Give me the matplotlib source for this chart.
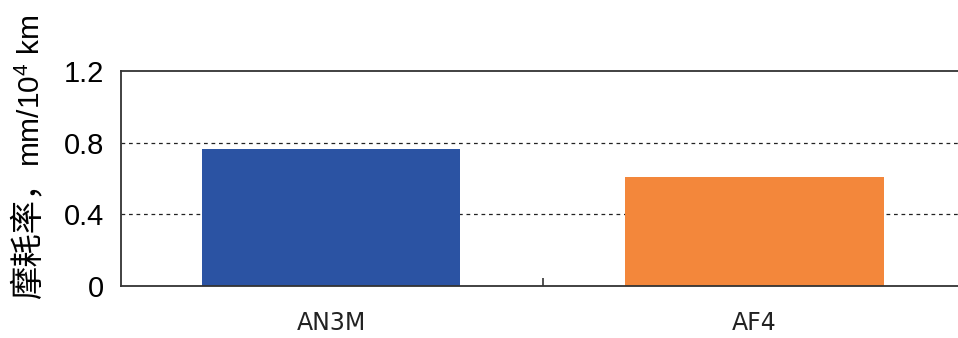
import matplotlib
matplotlib.use("Agg")
import matplotlib.pyplot as plt

categories = ["AN3M", "AF4"]
wear_rate = [0.765, 0.608]
bar_colors = ["#2b53a3", "#f3873b"]
y_ticks = [0, 0.4, 0.8, 1.2]
y_tick_labels = ["0", "0.4", "0.8", "1.2"]

plt.rcParams["font.family"] = ["Liberation Sans", "DejaVu Sans"]
plt.rcParams["mathtext.fontset"] = "custom"
plt.rcParams["mathtext.rm"] = "Liberation Sans"

fig = plt.figure(figsize=(9.58, 3.38), dpi=100)
ax = fig.add_axes([0.1263, 0.154, 0.8737, 0.636])

x = list(range(len(categories)))
ax.bar(x, wear_rate, width=0.61, color=bar_colors, zorder=2)

ax.set_xlim(-0.496, 1.48)
ax.set_ylim(0, 1.2)
ax.set_yticks(y_ticks)
ax.set_yticklabels(y_tick_labels, fontsize=21)
ax.tick_params(axis="y", length=0, pad=12)

# tick between the two groups, pointing inward
ax.set_xticks([0.5])
ax.set_xticklabels([""])
ax.tick_params(axis="x", direction="in", length=6, width=1.2, color="#333333")
for xi, lab in zip(x, categories):
    ax.text(xi, -0.14, lab, ha="center", va="top", fontsize=17,
            family="DejaVu Sans", transform=ax.transData, color="#222222")

for yv in [0.4, 0.8]:
    ax.axhline(yv, color="#222222", linestyle=(0, (3, 3)), linewidth=0.9, zorder=1)

ax.spines["right"].set_visible(False)
for s in ["left", "bottom", "top"]:
    ax.spines[s].set_color("#333333")
    ax.spines[s].set_linewidth(1.3)

# y label in two pieces: CJK part and latin/units part
fig.text(28 / 958, 1 - 299 / 338, "摩耗率，", rotation=90,
         ha="center", va="bottom", fontsize=24, family="Noto Sans CJK SC")
fig.text(31 / 958, 1 - 167 / 338, "mm/10$^4$ km", rotation=90,
         ha="center", va="bottom", fontsize=21.5, family="Liberation Sans")

fig.savefig("out.png", dpi=100)
